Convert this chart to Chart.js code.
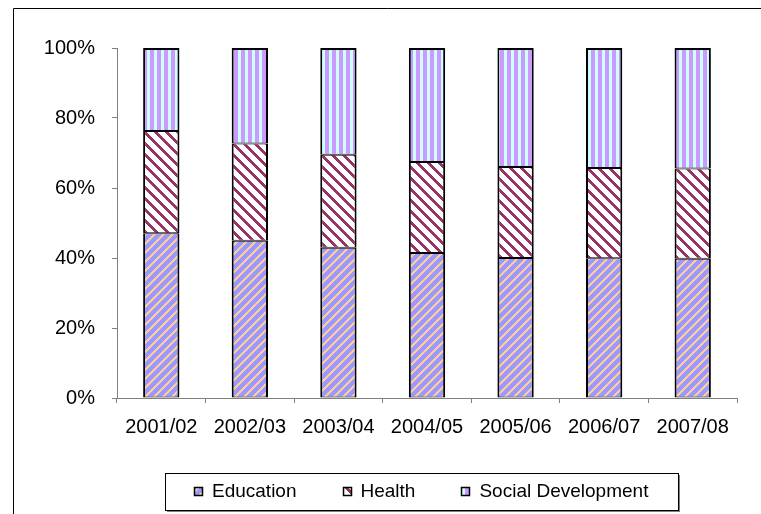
<!DOCTYPE html>
<html><head><meta charset="utf-8">
<script src="https://cdn.jsdelivr.net/npm/chart.js@4/dist/chart.umd.min.js"></script>
<style>html,body{margin:0;padding:0;background:#fff;}canvas{display:block;}</style>
</head><body>
<canvas id="c" width="761" height="514"></canvas>
<script>
const categories = ['2001/02','2002/03','2003/04','2004/05','2005/06','2006/07','2007/08'];
const education = [47.1, 44.9, 42.9, 41.4, 40.0, 39.9, 39.8];
const health = [29.2, 27.8, 26.6, 26.0, 26.0, 25.8, 25.8];
const socialDevelopment = [23.7, 27.3, 30.5, 32.6, 34.0, 34.3, 34.4];
const yTicks = [0, 20, 40, 60, 80, 100];
const seriesNames = ['Education', 'Health', 'Social Development'];

const FONT = '"Liberation Sans", Arial, sans-serif';
const canvas = document.getElementById('c');
const mainCtx = canvas.getContext('2d');

function pixelPattern(n, base, stripe, test) {
  const t = document.createElement('canvas');
  t.width = n; t.height = n;
  const x = t.getContext('2d');
  x.fillStyle = base; x.fillRect(0, 0, n, n);
  x.fillStyle = stripe;
  for (let i = 0; i < n; i++) for (let j = 0; j < n; j++) if (test(i, j, n)) x.fillRect(i, j, 1, 1);
  return mainCtx.createPattern(t, 'repeat');
}
const eduPattern = pixelPattern(9, '#9999FF', '#FFCC99', (i, j, n) => ((i + j) % n) < 3);
const healthPattern = pixelPattern(11, '#FFFFFF', '#993366', (i, j, n) => (((i - j) % n + n) % n) < 4);
const socialPattern = pixelPattern(7, '#CCFFFF', '#CC99FF', (i) => i >= 3);
const patterns = [eduPattern, healthPattern, socialPattern];

const framePlugin = {
  id: 'frame',
  beforeDraw(chart) {
    const ctx = chart.ctx;
    ctx.save();
    ctx.fillStyle = '#fff'; ctx.fillRect(0, 0, chart.width, chart.height);
    ctx.strokeStyle = '#000'; ctx.lineWidth = 1;
    ctx.beginPath(); ctx.moveTo(13.5, chart.height); ctx.lineTo(13.5, 8.5); ctx.lineTo(chart.width, 8.5); ctx.stroke();
    ctx.restore();
  },
  afterDraw(chart) {
    const ctx = chart.ctx;
    ctx.save();
    const bx = 165, by = 473, bw = 513, bh = 37;
    ctx.fillStyle = '#808080';
    ctx.fillRect(bx + 2, by + bh, bw, 2);
    ctx.fillRect(bx + bw, by + 2, 2, bh);
    ctx.fillStyle = '#fff'; ctx.fillRect(bx, by, bw, bh);
    ctx.strokeStyle = '#000'; ctx.lineWidth = 1;
    ctx.strokeRect(bx + 0.5, by + 0.5, bw, bh);
    ctx.font = '19px ' + FONT;
    const sq = 9, gapText = 9, gapItem = 46;
    const widths = seriesNames.map(n => sq + gapText + ctx.measureText(n).width);
    const total = widths.reduce((a, b) => a + b, 0) + gapItem * (seriesNames.length - 1);
    let x = Math.round(bx + bw / 2 - total / 2);
    const cy = by + bh / 2;
    seriesNames.forEach((n, i) => {
      const sx = Math.round(x), sy = Math.round(cy - sq / 2);
      ctx.fillStyle = patterns[i];
      ctx.fillRect(sx, sy, sq, sq);
      ctx.strokeStyle = '#000'; ctx.lineWidth = 1.5;
      ctx.strokeRect(sx + 0.5, sy + 0.5, sq - 1, sq - 1);
      ctx.fillStyle = '#000'; ctx.textBaseline = 'alphabetic'; ctx.textAlign = 'left';
      ctx.fillText(n, x + sq + gapText, cy + 5);
      x += widths[i] + gapItem;
    });
    ctx.restore();
  }
};

const values = [education, health, socialDevelopment];
new Chart(canvas, {
  type: 'bar',
  data: {
    labels: categories,
    datasets: seriesNames.map((n, i) => ({
      label: n,
      data: values[i],
      backgroundColor: patterns[i],
      borderColor: '#000',
      borderWidth: {left: 2, right: 2, top: i === 2 ? 2 : 1, bottom: 1},
      borderSkipped: false,
      barPercentage: 0.41,
      categoryPercentage: 1
    }))
  },
  options: {
    responsive: false,
    devicePixelRatio: 1,
    animation: false,
    layout: {padding: {left: 0, top: 48, right: 24, bottom: 76}},
    plugins: {legend: {display: false}, tooltip: {enabled: false}, title: {display: false}},
    scales: {
      x: {
        stacked: true,
        grid: {drawOnChartArea: false, drawTicks: true, tickLength: 5, color: '#808080', offset: true},
        border: {color: '#808080', width: 1},
        ticks: {color: '#000', font: {family: FONT, size: 20}, padding: 12, maxRotation: 0, autoSkip: false},
        afterFit(s) { s.height = 40; }
      },
      y: {
        stacked: true,
        min: 0, max: 100,
        afterBuildTicks(s) { s.ticks = yTicks.map(v => ({value: v})); },
        grid: {drawOnChartArea: false, drawTicks: true, tickLength: 5, color: '#808080'},
        border: {color: '#808080', width: 1},
        ticks: {color: '#000', font: {family: FONT, size: 20}, padding: 17, callback: v => v + '%'},
        afterFit(s) { s.width = 117; }
      }
    }
  },
  plugins: [framePlugin]
});
</script>
</body></html>
